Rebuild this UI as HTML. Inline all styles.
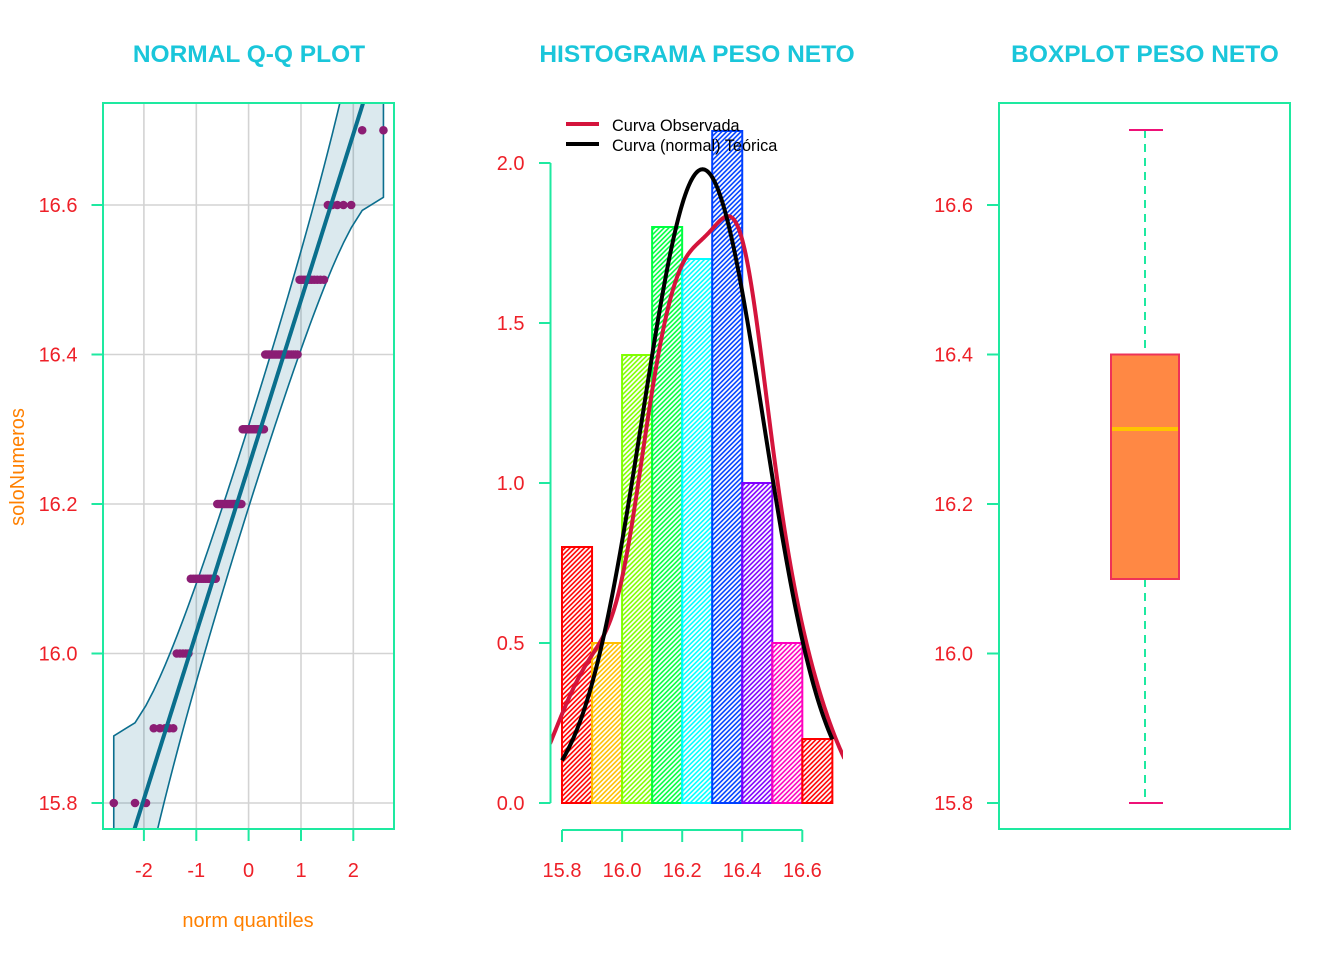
<!DOCTYPE html>
<html><head><meta charset="utf-8"><style>
html,body{margin:0;padding:0;background:#fff;width:1344px;height:960px;overflow:hidden;position:relative}
svg{display:block;position:absolute;left:0;top:0}
text{font-family:"Liberation Sans",Arial,sans-serif}
</style></head><body>
<svg id="s" width="1344" height="960" viewBox="0 0 1344 960" xmlns="http://www.w3.org/2000/svg">
<defs>
<clipPath id="qqc"><rect x="103.5" y="103" width="291" height="727"/></clipPath>
<clipPath id="hc"><rect x="551" y="131" width="292" height="699"/></clipPath>
<pattern id="p0" patternUnits="userSpaceOnUse" width="3.4" height="10" patternTransform="rotate(45)"><line x1="1.7" y1="0" x2="1.7" y2="10" stroke="#FF0000" stroke-width="1.6"/></pattern>
<pattern id="p1" patternUnits="userSpaceOnUse" width="3.4" height="10" patternTransform="rotate(45)"><line x1="1.7" y1="0" x2="1.7" y2="10" stroke="#FFBF00" stroke-width="1.6"/></pattern>
<pattern id="p2" patternUnits="userSpaceOnUse" width="3.4" height="10" patternTransform="rotate(45)"><line x1="1.7" y1="0" x2="1.7" y2="10" stroke="#80FF00" stroke-width="1.6"/></pattern>
<pattern id="p3" patternUnits="userSpaceOnUse" width="3.4" height="10" patternTransform="rotate(45)"><line x1="1.7" y1="0" x2="1.7" y2="10" stroke="#00FF40" stroke-width="1.6"/></pattern>
<pattern id="p4" patternUnits="userSpaceOnUse" width="3.4" height="10" patternTransform="rotate(45)"><line x1="1.7" y1="0" x2="1.7" y2="10" stroke="#00FFFF" stroke-width="1.6"/></pattern>
<pattern id="p5" patternUnits="userSpaceOnUse" width="3.4" height="10" patternTransform="rotate(45)"><line x1="1.7" y1="0" x2="1.7" y2="10" stroke="#0040FF" stroke-width="1.6"/></pattern>
<pattern id="p6" patternUnits="userSpaceOnUse" width="3.4" height="10" patternTransform="rotate(45)"><line x1="1.7" y1="0" x2="1.7" y2="10" stroke="#8000FF" stroke-width="1.6"/></pattern>
<pattern id="p7" patternUnits="userSpaceOnUse" width="3.4" height="10" patternTransform="rotate(45)"><line x1="1.7" y1="0" x2="1.7" y2="10" stroke="#FF00BF" stroke-width="1.6"/></pattern>
</defs>

<!-- Titles -->
<text x="249" y="62" font-size="24.5" font-weight="bold" fill="#1ac6da" text-anchor="middle">NORMAL Q-Q PLOT</text>
<text x="697" y="62" font-size="24.5" font-weight="bold" fill="#1ac6da" text-anchor="middle">HISTOGRAMA PESO NETO</text>
<text x="1145" y="62" font-size="24.5" font-weight="bold" fill="#1ac6da" text-anchor="middle">BOXPLOT PESO NETO</text>

<!-- ===== QQ plot ===== -->
<g stroke="#d3d3d3" stroke-width="1.6">
<line x1="143.9" y1="103" x2="143.9" y2="829"/>
<line x1="196.3" y1="103" x2="196.3" y2="829"/>
<line x1="248.6" y1="103" x2="248.6" y2="829"/>
<line x1="301" y1="103" x2="301" y2="829"/>
<line x1="353.3" y1="103" x2="353.3" y2="829"/>
<line x1="103" y1="803" x2="394" y2="803"/>
<line x1="103" y1="653.5" x2="394" y2="653.5"/>
<line x1="103" y1="504" x2="394" y2="504"/>
<line x1="103" y1="354.5" x2="394" y2="354.5"/>
<line x1="103" y1="205" x2="394" y2="205"/>
</g>
<g id="qq" clip-path="url(#qqc)"></g>
<rect x="103" y="103" width="291" height="726" fill="none" stroke="#1ee9a0" stroke-width="2"/>
<g stroke="#1ee9a0" stroke-width="2">
<line x1="91.5" y1="803" x2="103" y2="803"/>
<line x1="91.5" y1="653.5" x2="103" y2="653.5"/>
<line x1="91.5" y1="504" x2="103" y2="504"/>
<line x1="91.5" y1="354.5" x2="103" y2="354.5"/>
<line x1="91.5" y1="205" x2="103" y2="205"/>
<line x1="143.9" y1="829" x2="143.9" y2="841"/>
<line x1="196.3" y1="829" x2="196.3" y2="841"/>
<line x1="248.6" y1="829" x2="248.6" y2="841"/>
<line x1="301" y1="829" x2="301" y2="841"/>
<line x1="353.3" y1="829" x2="353.3" y2="841"/>
</g>
<g font-size="20" fill="#ee2028" text-anchor="end">
<text x="77.5" y="810.2">15.8</text>
<text x="77.5" y="660.7">16.0</text>
<text x="77.5" y="511.2">16.2</text>
<text x="77.5" y="361.7">16.4</text>
<text x="77.5" y="212.2">16.6</text>
</g>
<g font-size="20" fill="#ee2028" text-anchor="middle">
<text x="143.9" y="877">-2</text>
<text x="196.3" y="877">-1</text>
<text x="248.6" y="877">0</text>
<text x="301" y="877">1</text>
<text x="353.3" y="877">2</text>
</g>
<text x="248" y="927" font-size="20" fill="#ff8000" text-anchor="middle">norm quantiles</text>
<text transform="translate(24,467) rotate(-90)" font-size="20" fill="#ff8000" text-anchor="middle">soloNumeros</text>

<!-- ===== Histogram ===== -->
<g stroke-width="2">
<rect x="562" y="547" width="30.04" height="256" fill="url(#p0)" stroke="#FF0000"/>
<rect x="592.04" y="643" width="30.04" height="160" fill="url(#p1)" stroke="#FFBF00"/>
<rect x="622.08" y="355" width="30.04" height="448" fill="url(#p2)" stroke="#80FF00"/>
<rect x="652.12" y="227" width="30.04" height="576" fill="url(#p3)" stroke="#00FF40"/>
<rect x="682.16" y="259" width="30.04" height="544" fill="url(#p4)" stroke="#00FFFF"/>
<rect x="712.2" y="131" width="30.04" height="672" fill="url(#p5)" stroke="#0040FF"/>
<rect x="742.24" y="483" width="30.04" height="320" fill="url(#p6)" stroke="#8000FF"/>
<rect x="772.28" y="643" width="30.04" height="160" fill="url(#p7)" stroke="#FF00BF"/>
<rect x="802.32" y="739" width="30.04" height="64" fill="url(#p0)" stroke="#FF0000"/>
</g>
<g id="hcurves" clip-path="url(#hc)"></g>
<g stroke="#1ee9a0" stroke-width="2">
<line x1="550.5" y1="163" x2="550.5" y2="803"/>
<line x1="539" y1="803" x2="550.5" y2="803"/>
<line x1="539" y1="643" x2="550.5" y2="643"/>
<line x1="539" y1="483" x2="550.5" y2="483"/>
<line x1="539" y1="323" x2="550.5" y2="323"/>
<line x1="539" y1="163" x2="550.5" y2="163"/>
<line x1="562" y1="830" x2="802.3" y2="830"/>
<line x1="562" y1="830" x2="562" y2="842"/>
<line x1="622.1" y1="830" x2="622.1" y2="842"/>
<line x1="682.2" y1="830" x2="682.2" y2="842"/>
<line x1="742.2" y1="830" x2="742.2" y2="842"/>
<line x1="802.3" y1="830" x2="802.3" y2="842"/>
</g>
<g font-size="20" fill="#ee2028" text-anchor="end">
<text x="524.5" y="810.2">0.0</text>
<text x="524.5" y="650.2">0.5</text>
<text x="524.5" y="490.2">1.0</text>
<text x="524.5" y="330.2">1.5</text>
<text x="524.5" y="170.2">2.0</text>
</g>
<g font-size="20" fill="#ee2028" text-anchor="middle">
<text x="562" y="877">15.8</text>
<text x="622.1" y="877">16.0</text>
<text x="682.2" y="877">16.2</text>
<text x="742.2" y="877">16.4</text>
<text x="802.3" y="877">16.6</text>
</g>
<line x1="566" y1="124" x2="599" y2="124" stroke="#d4143c" stroke-width="4"/>
<line x1="566" y1="144" x2="599" y2="144" stroke="#000" stroke-width="4"/>
<text x="612" y="131" font-size="16.3" fill="#000">Curva Observada</text>
<text x="612" y="151" font-size="16.3" fill="#000">Curva (normal) Teórica</text>

<!-- ===== Boxplot ===== -->
<rect x="999" y="103" width="291" height="726" fill="none" stroke="#1ee9a0" stroke-width="2"/>
<g stroke="#1ee9a0" stroke-width="2">
<line x1="987" y1="803" x2="999" y2="803"/>
<line x1="987" y1="653.5" x2="999" y2="653.5"/>
<line x1="987" y1="504" x2="999" y2="504"/>
<line x1="987" y1="354.5" x2="999" y2="354.5"/>
<line x1="987" y1="205" x2="999" y2="205"/>
</g>
<g font-size="20" fill="#ee2028" text-anchor="end">
<text x="973" y="810.2">15.8</text>
<text x="973" y="660.7">16.0</text>
<text x="973" y="511.2">16.2</text>
<text x="973" y="361.7">16.4</text>
<text x="973" y="212.2">16.6</text>
</g>
<g stroke="#1ee9a0" stroke-width="2" stroke-dasharray="8,6">
<line x1="1145" y1="130" x2="1145" y2="354.5"/>
<line x1="1145" y1="579" x2="1145" y2="803"/>
</g>
<line x1="1129" y1="130" x2="1163" y2="130" stroke="#ee1177" stroke-width="2"/>
<line x1="1129" y1="803" x2="1163" y2="803" stroke="#ee1177" stroke-width="2"/>
<rect x="1111" y="354.5" width="68" height="224.5" fill="#ff8844" stroke="#ee3358" stroke-width="2"/>
<line x1="1112" y1="429" x2="1178" y2="429" stroke="#ffc400" stroke-width="4"/>
</svg>
<script>
(function(){
var NS="http://www.w3.org/2000/svg";
function qnorm(p){
 var a=[-3.969683028665376e+01,2.209460984245205e+02,-2.759285104469687e+02,1.383577518672690e+02,-3.066479806614716e+01,2.506628277459239e+00];
 var b=[-5.447609879822406e+01,1.615858368580409e+02,-1.556989798598866e+02,6.680131188771972e+01,-1.328068155288572e+01];
 var c=[-7.784894002430293e-03,-3.223964580411365e-01,-2.400758277161838e+00,-2.549732539343734e+00,4.374664141464968e+00,2.938163982698783e+00];
 var d=[7.784695709041462e-03,3.224671290700398e-01,2.445134137142996e+00,3.754408661907416e+00];
 var pl=0.02425,ph=1-pl,q,r;
 if(p<pl){q=Math.sqrt(-2*Math.log(p));return (((((c[0]*q+c[1])*q+c[2])*q+c[3])*q+c[4])*q+c[5])/((((d[0]*q+d[1])*q+d[2])*q+d[3])*q+1);}
 if(p>ph){q=Math.sqrt(-2*Math.log(1-p));return -(((((c[0]*q+c[1])*q+c[2])*q+c[3])*q+c[4])*q+c[5])/((((d[0]*q+d[1])*q+d[2])*q+d[3])*q+1);}
 q=p-0.5;r=q*q;return (((((a[0]*r+a[1])*r+a[2])*r+a[3])*r+a[4])*r+a[5])*q/(((((b[0]*r+b[1])*r+b[2])*r+b[3])*r+b[4])*r+1);
}
function dn(z){return Math.exp(-0.5*z*z)/Math.sqrt(2*Math.PI);}
function el(tag,attrs,parent){var e=document.createElementNS(NS,tag);for(var k in attrs)e.setAttribute(k,attrs[k]);parent.appendChild(e);return e;}
var vals=[15.8,15.9,16.0,16.1,16.2,16.3,16.4,16.5,16.6,16.7];
var cnt=[3,5,5,14,18,17,21,10,5,2];
var x=[];for(var i=0;i<vals.length;i++)for(var j=0;j<cnt[i];j++)x.push(vals[i]);
var n=x.length;
// QQ
var X=function(z){return 248.6+52.35*z;};
var Y=function(v){return 803-(v-15.8)*747.5;};
var slope=0.3/(qnorm(0.75)-qnorm(0.25));
var inter=16.1-slope*qnorm(0.25);
var qq=document.getElementById("qq");
var up=[],lo=[];
var zs=[];
for(var i=0;i<n;i++){
 var P=(i+1-0.5)/n; var z=qnorm(P); zs.push(z);
 var fit=inter+slope*z; var se=slope/dn(z)*Math.sqrt(P*(1-P)/n);
 var yu=Math.max(60,Math.min(900,Y(fit+1.959964*se)));
 var yl=Math.max(60,Math.min(900,Y(fit-1.959964*se)));
 up.push(X(z).toFixed(2)+","+yu.toFixed(2));
 lo.push(X(z).toFixed(2)+","+yl.toFixed(2));
}
var poly=up.concat(lo.reverse()).join(" ");
el("polygon",{points:poly,fill:"#0b6e8e","fill-opacity":"0.15",stroke:"#0b6e8e","stroke-width":"1.6","stroke-linejoin":"round"},qq);
for(var i=0;i<n;i++){
 el("circle",{cx:X(zs[i]).toFixed(2),cy:Y(x[i]).toFixed(2),r:"4.3",fill:"#8b1d74"},qq);
}
var v1=15.76,v2=16.74;
var z1=(v1-inter)/slope,z2=(v2-inter)/slope;
el("line",{x1:X(z1).toFixed(2),y1:Y(v1).toFixed(2),x2:X(z2).toFixed(2),y2:Y(v2).toFixed(2),stroke:"#0a6f8d","stroke-width":"4"},qq);
// Histogram curves
var HX=function(v){return 562+(v-15.8)*300.4;};
var HY=function(dd){return 803-dd*320;};
var hc=document.getElementById("hcurves");
var mean=0;for(var i=0;i<n;i++)mean+=x[i];mean/=n;
var ss=0;for(var i=0;i<n;i++)ss+=(x[i]-mean)*(x[i]-mean);
var sd=Math.sqrt(ss/(n-1));
var bw=0.9*Math.min(sd,0.3/1.34)*Math.pow(n,-0.2);
var pts=[];
var lo2=15.76,hi2=16.74;
for(var k=0;k<400;k++){
 var t=lo2+(hi2-lo2)*k/399; var s=0;
 for(var i=0;i<vals.length;i++){s+=cnt[i]*dn((t-vals[i])/bw);}
 s/=(n*bw);
 pts.push(HX(t).toFixed(2)+","+HY(s).toFixed(2));
}
el("polyline",{points:pts.join(" "),fill:"none",stroke:"#d4143c","stroke-width":"4","stroke-linejoin":"round"},hc);
var np=[];
for(var k=0;k<=200;k++){
 var t=15.8+0.9*k/200; var dd=dn((t-mean)/sd)/sd;
 np.push(HX(t).toFixed(2)+","+HY(dd).toFixed(2));
}
el("polyline",{points:np.join(" "),fill:"none",stroke:"#000","stroke-width":"4","stroke-linejoin":"round"},hc);
})();
</script>
</body></html>
